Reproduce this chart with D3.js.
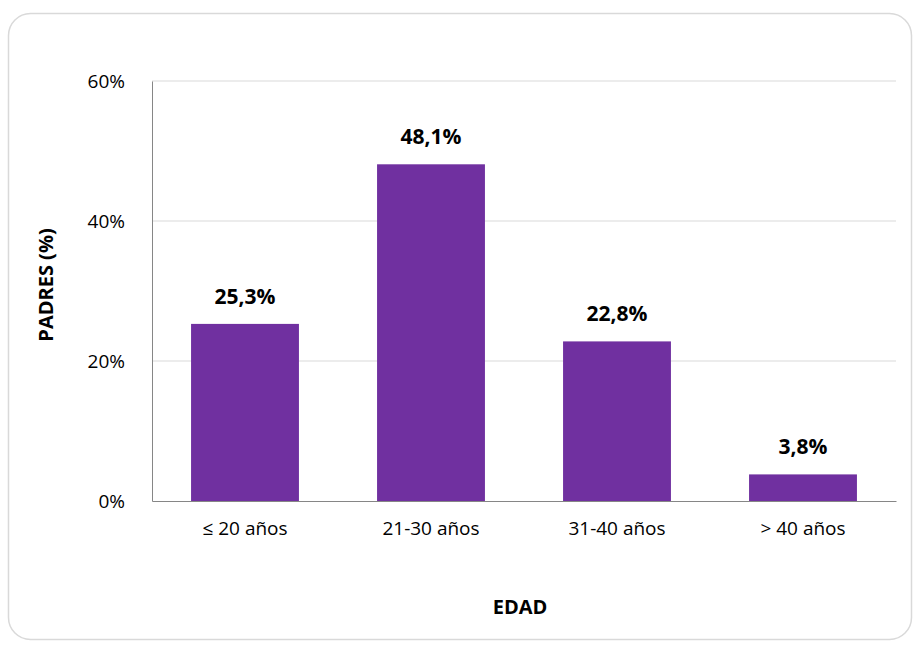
<!DOCTYPE html>
<html>
<head>
<meta charset="utf-8">
<script src="https://cdn.jsdelivr.net/npm/d3@7"></script>
<style>
  body { margin: 0; background: #fff; }
  svg text { font-family: "Open Sans", Lato, sans-serif; fill: #000; }
</style>
</head>
<body>
<svg id="chart" width="920" height="648"></svg>
<script>
var categories = ["≤ 20 años", "21-30 años", "31-40 años", "> 40 años"];
var values = [25.3, 48.1, 22.8, 3.8];
var yTicks = [0, 20, 40, 60];

var svg = d3.select("#chart");
var plotLeft = 152, plotRight = 896, plotTop = 81, plotBottom = 501;

// frame
svg.append("rect")
    .attr("x", 8.5).attr("y", 13.5)
    .attr("width", 903).attr("height", 626)
    .attr("rx", 22).attr("ry", 22)
    .attr("fill", "#fff")
    .attr("stroke", "#d9d9d9")
    .attr("stroke-width", 1.5);

var x = d3.scaleBand()
    .domain(categories)
    .range([plotLeft, plotRight])
    .paddingInner(0.42)
    .paddingOuter(0.21);

var y = d3.scaleLinear()
    .domain([0, 60])
    .range([plotBottom, plotTop]);

// gridlines
svg.append("g")
    .selectAll("line")
    .data(yTicks.slice(1))
    .enter()
    .append("line")
    .attr("x1", plotLeft).attr("x2", plotRight)
    .attr("y1", function (d) { return y(d); })
    .attr("y2", function (d) { return y(d); })
    .attr("stroke", "#d9d9d9")
    .attr("stroke-width", 1);

// y axis
var yAxis = d3.axisLeft(y).tickValues(yTicks).tickSize(0).tickPadding(27)
    .tickFormat(function (d) { return d + "%"; });
var gy = svg.append("g")
    .attr("transform", "translate(" + plotLeft + ",0)")
    .call(yAxis);
gy.select(".domain").attr("stroke", "#868686");
gy.selectAll("text").style("font-size", "19px").attr("fill", "#000");

// bars
svg.selectAll("rect.bar")
    .data(values)
    .enter()
    .append("rect")
    .attr("class", "bar")
    .attr("x", function (d, i) { return x(categories[i]); })
    .attr("y", function (d) { return y(d); })
    .attr("width", x.bandwidth())
    .attr("height", function (d) { return plotBottom - y(d); })
    .attr("fill", "#7030a0");

// x axis
var xAxis = d3.axisBottom(x).tickSize(0).tickPadding(21);
var gx = svg.append("g")
    .attr("transform", "translate(0," + plotBottom + ")")
    .call(xAxis);
gx.select(".domain").attr("stroke", "#868686");
gx.selectAll("text").style("font-size", "19px").attr("fill", "#000");

// value labels
svg.selectAll("text.val")
    .data(values)
    .enter()
    .append("text")
    .attr("class", "val")
    .attr("x", function (d, i) { return x(categories[i]) + x.bandwidth() / 2; })
    .attr("y", function (d) { return y(d) - 20; })
    .attr("text-anchor", "middle")
    .style("font-size", "21px")
    .style("font-weight", "bold")
    .text(function (d) { return d.toFixed(1).replace(".", ",") + "%"; });

// axis titles
svg.append("text")
    .attr("transform", "translate(53,285) rotate(-90)")
    .attr("text-anchor", "middle")
    .style("font-size", "20px")
    .style("font-weight", "bold")
    .text("PADRES (%)");

svg.append("text")
    .attr("x", (plotLeft + plotRight) / 2 - 4)
    .attr("y", 614)
    .attr("text-anchor", "middle")
    .style("font-size", "20px")
    .style("font-weight", "bold")
    .text("EDAD");
</script>
</body>
</html>
